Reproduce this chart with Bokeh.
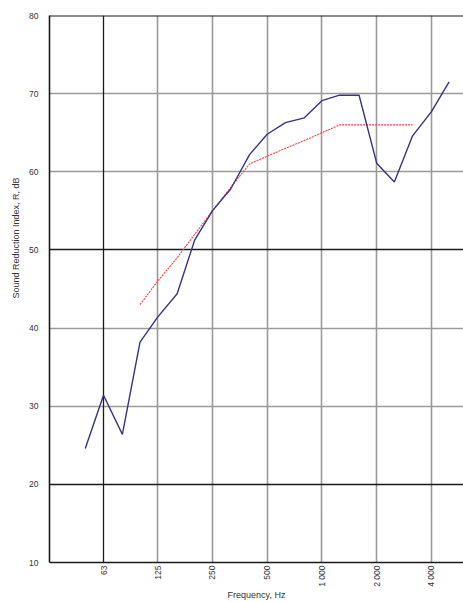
import math
from bokeh.plotting import figure
from bokeh.models import FixedTicker, Grid, Range1d, Span, Title
from bokeh.embed import file_html
from bokeh.resources import INLINE

# Third-octave band centre frequencies (Hz)
freqs = [50, 63, 80, 100, 125, 160, 200, 250, 315, 400, 500, 630, 800,
         1000, 1250, 1600, 2000, 2500, 3150, 4000, 5000]
# Measured sound reduction index R (dB)
measured = [24.6, 31.4, 26.4, 38.2, 41.4, 44.4, 51.3, 55.0, 57.8, 62.2, 64.8,
            66.3, 66.9, 69.1, 69.8, 69.8, 61.1, 58.7, 64.6, 67.7, 71.5]
# Shifted reference curve (dB), 100 Hz .. 3150 Hz
ref_freqs = [100, 125, 160, 200, 250, 315, 400, 500, 630, 800, 1000,
             1250, 1600, 2000, 2500, 3150]
ref_values = [43, 46, 49, 52, 55, 58, 61, 62, 63, 64, 65, 66, 66, 66, 66, 66]

x_ticks = [63, 125, 250, 500, 1000, 2000, 4000]
x_tick_labels = ["63", "125", "250", "500", "1 000", "2 000", "4 000"]
y_ticks = [10, 20, 30, 40, 50, 60, 70, 80]

FONT = "Liberation Sans"

p = figure(width=463, height=602, x_axis_type="log",
           output_backend="svg", toolbar_location=None,
           min_border_left=49, min_border_right=0, min_border_top=15,
           min_border_bottom=38)
p.x_range = Range1d(31.8, 6000)
p.y_range = Range1d(10, 80)
p.outline_line_color = None
p.background_fill_color = "white"

# grids
p.xgrid.ticker = FixedTicker(ticks=[125, 250, 500, 1000, 2000, 4000])
p.xgrid.grid_line_color = "#9a9a9a"
p.xgrid.grid_line_width = 1.6
p.ygrid.ticker = FixedTicker(ticks=[30, 40, 60, 70])
p.ygrid.grid_line_color = "#9a9a9a"
p.ygrid.grid_line_width = 1.6
p.add_layout(Grid(dimension=0, ticker=FixedTicker(ticks=[63]),
                  grid_line_color="#1a1a1a", grid_line_width=1.3))
p.add_layout(Grid(dimension=1, ticker=FixedTicker(ticks=[20, 50]),
                  grid_line_color="#1a1a1a", grid_line_width=1.3))
p.add_layout(Span(location=80, dimension="width", line_color="#1a1a1a",
                  line_width=2))

# axes
xa = p.xaxis[0]
xa.ticker = FixedTicker(ticks=x_ticks)
xa.major_label_overrides = {t: l for t, l in zip(x_ticks, x_tick_labels)}
xa.major_label_orientation = math.pi / 2
xa.major_tick_in = 0
xa.major_tick_out = 0
xa.minor_tick_in = 0
xa.minor_tick_out = 0
xa.major_label_standoff = 3
xa.major_label_text_font = FONT
xa.major_label_text_font_size = "8.5px"
xa.major_label_text_color = "#333333"
xa.axis_line_color = "#1a1a1a"
xa.axis_line_width = 1.6
xa.axis_label = "Frequency, Hz"
xa.axis_label_text_font = FONT
xa.axis_label_text_font_size = "9px"
xa.axis_label_text_font_style = "normal"
xa.axis_label_text_color = "#333333"
xa.axis_label_standoff = 0

ya = p.yaxis[0]
ya.ticker = FixedTicker(ticks=y_ticks)
ya.major_tick_in = 0
ya.major_tick_out = 0
ya.minor_tick_in = 0
ya.minor_tick_out = 0
ya.major_label_standoff = 11
ya.major_label_text_font = FONT
ya.major_label_text_font_size = "8.5px"
ya.major_label_text_color = "#333333"
ya.axis_line_color = "#1a1a1a"
ya.axis_line_width = 1.6

# data
p.line(ref_freqs, ref_values, line_color="#ff3b3b", line_width=1.1,
       line_dash="2 1")
p.line(freqs, measured, line_color="#35357f", line_width=1.4)

# y axis title, placed in a side panel so it can sit above centre
ytitle = Title(text="Sound Reduction Index, R, dB", align="right",
               offset=162, text_font=FONT, text_font_size="9px",
               text_font_style="normal", text_color="#333333",
               standoff=11)
p.add_layout(ytitle, "left")

open("out.html", "w").write(file_html(p, INLINE))
